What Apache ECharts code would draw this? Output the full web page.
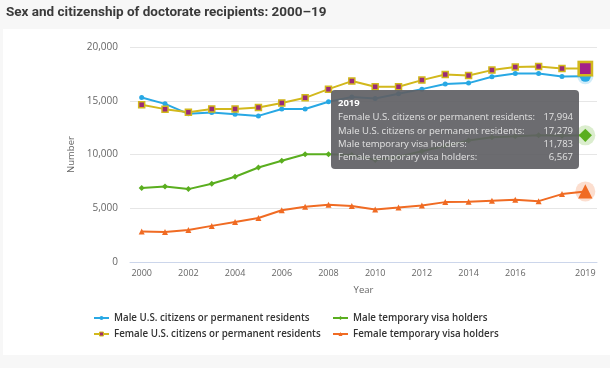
<!DOCTYPE html>
<html>
<head>
<meta charset="utf-8">
<script src="https://cdn.jsdelivr.net/npm/echarts@6/dist/echarts.min.js"></script>
<style>
html,body{margin:0;padding:0;background:#f7f7f7;}
#c{width:610px;height:368px;}
</style>
</head>
<body>
<div id="c"></div>
<script>
const years = ['2000','2001','2002','2003','2004','2005','2006','2007','2008','2009','2010','2011','2012','2013','2014','2015','2016','2017','2018','2019'];
const tickYears = ['2000','2002','2004','2006','2008','2010','2012','2014','2016','2019'];
const yTicks = [0, 5000, 10000, 15000, 20000];
const maleUS = [15300,14710,13780,13900,13750,13590,14240,14240,14900,15350,15200,15650,16080,16550,16640,17230,17540,17540,17260,17279];
const femaleUS = [14620,14220,13940,14240,14240,14370,14800,15270,16080,16830,16300,16300,16920,17440,17350,17850,18130,18190,18000,17994];
const maleTemp = [6875,7030,6780,7280,7930,8790,9420,10020,10020,9950,9500,9800,10300,10800,11300,11600,11700,11800,11750,11783];
const femaleTemp = [2835,2800,2985,3360,3730,4090,4820,5130,5320,5200,4890,5070,5260,5570,5600,5690,5780,5660,6315,6567];
const names = ['Male U.S. citizens or permanent residents','Male temporary visa holders','Female U.S. citizens or permanent residents','Female temporary visa holders'];

const BLUE='#28a8e4', GOLD='#d2b81c', GREEN='#5aae1f', ORANGE='#f06b23', PURPLE='#9a2a78';
const chart = echarts.init(document.getElementById('c'), null, {renderer:'canvas'});
const last = years.length - 1;

function mk(name, arr, color, symbol, size, bigSize, extra) {
  return Object.assign({
    name: name, type:'line', data: arr.map((v,i)=> i===last ? {value:v, symbolSize:bigSize} : v),
    symbol: symbol, symbolSize: size, showSymbol:true,
    lineStyle:{color:color, width:2}, itemStyle:{color:color},
    emphasis:{disabled:true}, z:3
  }, extra || {});
}
function halo(arr, color, symbol, size) {
  return {type:'scatter', data:[[last, arr[last]]], symbol:symbol, symbolSize:size, silent:true,
    itemStyle:{color:color, opacity:0.22}, z:2, tooltip:{show:false}, emphasis:{disabled:true}};
}

const fmt = v => v.toLocaleString('en-US');
const legendText = {fontFamily:'Open Sans', fontSize:9.75, fontWeight:600, color:'#333'};
const option = {
  backgroundColor:'#f7f7f7',
  animation:false,
  title:{text:'Sex and citizenship of doctorate recipients: 2000\u201319', left:1, top:1,
    textStyle:{fontFamily:'Roboto', fontSize:13.5, fontWeight:'bold', color:'#3a3a3a'}},
  graphic:[{type:'rect', shape:{x:3, y:29, width:607, height:326}, style:{fill:'#ffffff'}, z:-10, silent:true}],
  grid:{left:130, right:13, top:47, bottom:106},
  xAxis:{type:'category', data:years, boundaryGap:true,
    name:'Year', nameLocation:'middle', nameGap:23,
    nameTextStyle:{fontFamily:'Open Sans', fontSize:9.5, color:'#666'},
    axisLine:{lineStyle:{color:'#ccd6eb'}},
    axisTick:{alignWithLabel:true, length:6, lineStyle:{color:'#ccd6eb'}, interval:(i,v)=>tickYears.includes(v)},
    axisLabel:{interval:(i,v)=>tickYears.includes(v), fontFamily:'Open Sans', fontSize:9, color:'#666', margin:7}},
  yAxis:{type:'value', min:yTicks[0], max:yTicks[yTicks.length-1], interval:5000,
    name:'Number', nameLocation:'middle', nameGap:52,
    nameTextStyle:{fontFamily:'Open Sans', fontSize:9.5, color:'#666'},
    axisLine:{show:false}, axisTick:{show:false},
    splitLine:{lineStyle:{color:'#e6e6e6'}},
    axisLabel:{fontFamily:'Open Sans', fontSize:10, color:'#666', margin:12, formatter:v=>fmt(v)}},
  legend:[
    {data:[{name:names[0]}, {name:names[2], itemStyle:{color:'#a0306a', borderColor:GOLD, borderWidth:1}}],
     orient:'vertical', left:88, top:308, itemGap:6, itemWidth:15, itemHeight:5, textStyle:legendText},
    {data:[names[1], names[3]], orient:'vertical', left:327, top:308, itemGap:6, itemWidth:15, itemHeight:5, textStyle:legendText}
  ],
  tooltip:{trigger:'axis', axisPointer:{type:'none'}, alwaysShowContent:true, position:[331,90],
    backgroundColor:'rgba(96,96,100,0.92)', borderWidth:0, padding:[6,6,6,7],
    extraCssText:'box-shadow:none;border-radius:4px;',
    textStyle:{fontFamily:'Open Sans', fontSize:9.5, color:'#e2e2e2'},
    formatter:function(){
      const rows = [[names[2], femaleUS[last]],[names[0], maleUS[last]],[names[1], maleTemp[last]],[names[3], femaleTemp[last]]];
      let h = '<div style="font-family:Open Sans;font-size:9.5px;line-height:13.3px;width:235px;">';
      h += '<div style="font-weight:bold;color:#fff;font-size:9.5px;margin-bottom:1px;">'+years[last]+'</div>';
      rows.forEach(r=>{ h += '<div style="display:flex;justify-content:space-between;"><span>'+r[0]+':</span><span>'+fmt(r[1])+'</span></div>'; });
      return h + '</div>';
    }},
  series:[
    halo(maleUS, BLUE, 'circle', 16),
    halo(femaleUS, GOLD, 'rect', 16),
    halo(maleTemp, GREEN, 'circle', 20),
    halo(femaleTemp, ORANGE, 'circle', 20),
    mk(names[0], maleUS, BLUE, 'circle', 5, 10),
    mk(names[1], maleTemp, GREEN, 'diamond', 6, 12),
    mk(names[2], femaleUS, GOLD, 'rect', 6, 12, {itemStyle:{color:PURPLE, borderColor:GOLD, borderWidth:1.5}}),
    mk(names[3], femaleTemp, ORANGE, 'triangle', 6, 13)
  ]
};
option.series[6].data[last] = {value:femaleUS[last], symbolSize:12, itemStyle:{color:'#a3208a', borderColor:GOLD, borderWidth:2.5}};
chart.setOption(option);
chart.dispatchAction({type:'showTip', seriesIndex:4, dataIndex:last});
</script>
</body>
</html>
